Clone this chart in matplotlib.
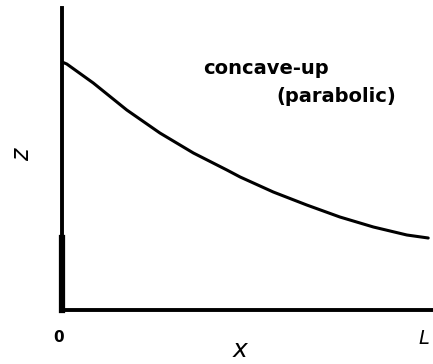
import matplotlib
matplotlib.use("Agg")
import matplotlib.pyplot as plt

# Data (x as fraction of L, z in arbitrary units)
x_vals = [0.0, 0.013, 0.085, 0.176, 0.266, 0.357, 0.448, 0.484, 0.574, 0.665,
          0.755, 0.846, 0.937, 0.995]
z_vals = [2.48, 2.46, 2.27, 2.00, 1.77, 1.57, 1.40, 1.33, 1.18, 1.05,
          0.93, 0.83, 0.75, 0.72]
x_tick_labels = ["0", "L"]
annotation_lines = ["concave-up", "(parabolic)"]

W, H = 433, 364
fig = plt.figure(figsize=(W / 100, H / 100), dpi=100)
fig.patch.set_facecolor("white")

ax = fig.add_axes([62 / W, (H - 310) / H, 371 / W, 302 / H])
ax.plot(x_vals, z_vals, color="black", lw=2.2, solid_capstyle="round",
        solid_joinstyle="round")
ax.set_xlim(0, 1.008)
ax.set_ylim(0, 3.02)
for s in ["top", "right"]:
    ax.spines[s].set_visible(False)
ax.spines["left"].set_linewidth(2.8)
ax.spines["bottom"].set_linewidth(2.8)
ax.set_xticks([])
ax.set_yticks([])
# thicker lower segment of the vertical axis in the sketch
ax.plot([0.0, 0.0], [0.0, 0.72], color="black", lw=4.5, clip_on=False)


def ft(px, py, s, **kw):
    fig.text(px / W, 1 - py / H, s, ha="center", va="center", color="black", **kw)


ft(22, 155, "z", fontsize=17, rotation=90, style="italic")
ft(59, 337, x_tick_labels[0], fontsize=11, fontweight="bold")
ft(424, 338, x_tick_labels[1], fontsize=14, style="italic")
ft(240, 350, "x", fontsize=18, style="italic")
ft(266, 68, annotation_lines[0], fontsize=14, fontweight="bold")
ft(336, 96, annotation_lines[1], fontsize=14, fontweight="bold")

fig.savefig("out.png", dpi=100, facecolor="white")
